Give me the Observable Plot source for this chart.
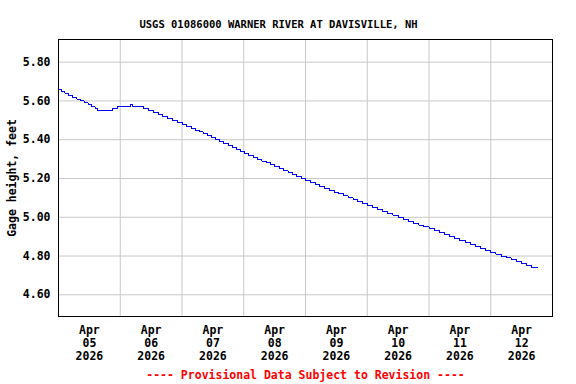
<!DOCTYPE html>
<html>
<head>
<meta charset="utf-8">
<script src="https://cdn.jsdelivr.net/npm/d3@7"></script>
<script src="https://cdn.jsdelivr.net/npm/@observablehq/plot@0.6"></script>
<style>
  html, body { margin: 0; padding: 0; background: #fff; }
  #chart svg { display: block; }
</style>
</head>
<body>
<div id="chart"></div>
<script>
// ---- Data ----
const title = "USGS 01086000 WARNER RIVER AT DAVISVILLE, NH";
const caption = "---- Provisional Data Subject to Revision ----";
const yLabel = "Gage height, feet";
const startISO = "2026-04-05T00:00:00Z";
// hours since Apr 05 00:00 at which each gage level begins
const hours = [0, 1.2, 2.5, 4, 5.5, 7, 8.5, 10, 11.5, 13, 14.2, 15.3, 20.8, 22.9, 27.8, 28.7,
  33, 34.9, 36.8, 38.7, 40.6, 42.5, 44.4, 46.3,
  48.3, 49.9, 51.5, 53.1, 54.7, 56.3, 57.9, 59.5, 61.1, 62.7, 64.3, 65.9, 67.5, 69.1, 70.7, 72.3,
  73.9, 75.6, 77.3, 79.0, 80.7, 82.4, 84.1, 85.8, 87.5, 89.2, 90.9, 92.6, 94.3, 96.0,
  97.8, 99.7, 101.5, 103.4, 105.2, 107.1, 108.9, 110.8, 112.6, 114.5, 116.3, 118.2, 120.0,
  122, 124, 126, 128, 130, 132, 134, 136, 138, 140, 142, 144,
  146, 148, 150, 152, 154, 156, 158, 160, 162, 164, 166, 168,
  170, 172, 174, 176, 178, 180, 182, 184, 186.1];
const gage = [5.66, 5.65, 5.64, 5.63, 5.62, 5.61, 5.60, 5.59, 5.58, 5.57, 5.56, 5.55, 5.56, 5.57, 5.58, 5.57,
  5.56, 5.55, 5.54, 5.53, 5.52, 5.51, 5.50, 5.49,
  5.48, 5.47, 5.46, 5.45, 5.44, 5.43, 5.42, 5.41, 5.40, 5.39, 5.38, 5.37, 5.36, 5.35, 5.34, 5.33,
  5.32, 5.31, 5.30, 5.29, 5.28, 5.27, 5.26, 5.25, 5.24, 5.23, 5.22, 5.21, 5.20, 5.19,
  5.18, 5.17, 5.16, 5.15, 5.14, 5.13, 5.12, 5.11, 5.10, 5.09, 5.08, 5.07, 5.06,
  5.05, 5.04, 5.03, 5.02, 5.01, 5.00, 4.99, 4.98, 4.97, 4.96, 4.95, 4.94,
  4.93, 4.92, 4.91, 4.90, 4.89, 4.88, 4.87, 4.86, 4.85, 4.84, 4.83, 4.82,
  4.81, 4.80, 4.79, 4.78, 4.77, 4.76, 4.75, 4.74, 4.74];
const dayDates = ["2026-04-05", "2026-04-06", "2026-04-07", "2026-04-08", "2026-04-09", "2026-04-10", "2026-04-11", "2026-04-12"];
const dayLabels = ["Apr\n05\n2026", "Apr\n06\n2026", "Apr\n07\n2026", "Apr\n08\n2026", "Apr\n09\n2026", "Apr\n10\n2026", "Apr\n11\n2026", "Apr\n12\n2026"];
const xDomain = ["2026-04-05", "2026-04-13"];
const yTicks = [4.6, 4.8, 5.0, 5.2, 5.4, 5.6, 5.8];
const yDomain = [4.488, 5.917];

// ---- Build ----
const start = new Date(startISO).getTime();
const series = hours.map((h, i) => ({t: new Date(start + h * 3600e3), v: gage[i]}));
const dayStarts = dayDates.map(d => new Date(d + "T00:00:00Z"));
const gridDates = dayStarts.slice(1);
const labelData = dayDates.map((d, i) => ({t: new Date(d + "T12:00:00Z"), label: dayLabels[i]}));
const font = "'DejaVu Sans Mono', monospace";

const chart = Plot.plot({
  width: 576,
  height: 384,
  marginLeft: 58,
  marginRight: 24,
  marginTop: 39,
  marginBottom: 68,
  style: {fontFamily: font, fontWeight: "bold", background: "#fff", color: "#000"},
  x: {type: "utc", domain: xDomain.map(d => new Date(d + "T00:00:00Z")), axis: null},
  y: {domain: yDomain, axis: null},
  marks: [
    Plot.gridX(gridDates, {stroke: "#c8c8c8", strokeOpacity: 1}),
    Plot.gridY(yTicks, {stroke: "#c8c8c8", strokeOpacity: 1}),
    Plot.line(series, {x: "t", y: "v", curve: "step-after", stroke: "#0000ff", strokeWidth: 1, shapeRendering: "crispEdges"}),
    Plot.frame({stroke: "#000", strokeWidth: 1}),
    Plot.axisY(yTicks, {tickSize: 0, tickPadding: 8, tickFormat: d => d.toFixed(2), fontSize: 11.5, fontWeight: "bold", label: null}),
    Plot.text(labelData, {x: "t", text: "label", frameAnchor: "bottom", lineAnchor: "top", dy: 8, fontSize: 11.5, lineHeight: 1.13, fontWeight: "bold", fill: "#000"}),
    Plot.text([title], {frameAnchor: "top", dx: -27, dy: -19, fontSize: 10.5, fontWeight: "bold", fill: "#000"}),
    Plot.text([caption], {frameAnchor: "bottom", dy: 62, fontSize: 11.5, fontWeight: "bold", fill: "#ff0000"}),
    Plot.text([yLabel], {frameAnchor: "left", textAnchor: "middle", dx: -46, rotate: -90, fontSize: 11.5, fontWeight: "bold", fill: "#000"})
  ]
});
document.getElementById("chart").appendChild(chart);
</script>
</body>
</html>
